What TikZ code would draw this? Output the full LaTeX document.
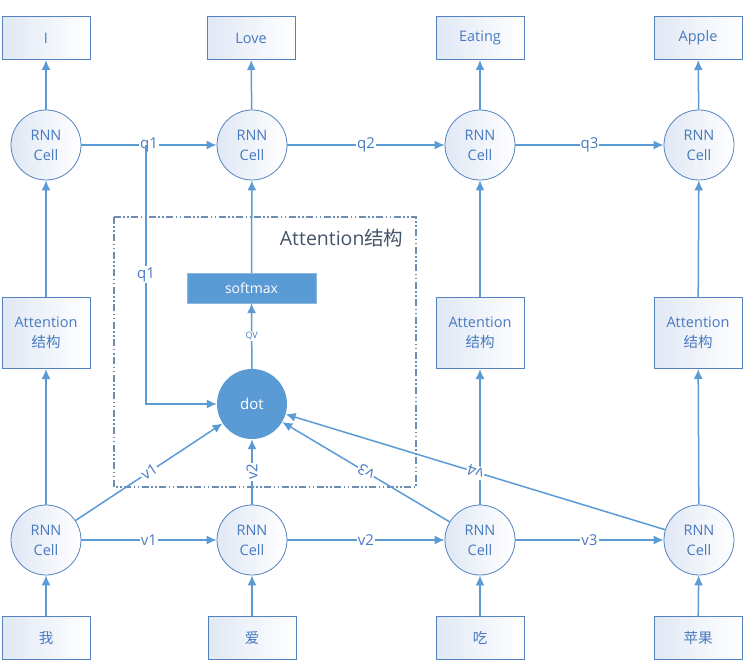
\documentclass[tikz,border=0pt]{standalone}
\usepackage{fontspec}
\setmainfont{Open Sans}
\newfontfamily\cjk{Noto Sans CJK SC}
\usetikzlibrary{arrows.meta}
\definecolor{lineblue}{RGB}{91,155,213}
\definecolor{edgeblue}{RGB}{84,130,190}
\definecolor{textblue}{RGB}{72,122,192}
\definecolor{paleblue}{RGB}{224,232,245}
\definecolor{slate}{RGB}{68,84,106}
\definecolor{framegray}{RGB}{110,140,175}
\tikzset{
  cell/.style={circle, draw=edgeblue, line width=0.8pt, left color=paleblue, right color=white, minimum size=70pt, inner sep=0pt, align=center, text=textblue, font=\fontsize{14.5}{20}\selectfont},
  word/.style={rectangle, draw=edgeblue, line width=1pt, left color=paleblue, right color=white, minimum width=88pt, minimum height=43pt, text=textblue, font=\fontsize{14.5}{17}\selectfont},
  attn/.style={word, minimum height=71pt, align=center, font=\fontsize{14.5}{20}\selectfont},
  link/.style={draw=lineblue, line width=1.5pt, -{Latex[length=10pt,width=9pt]}},
  lab/.style={fill=white, inner sep=1pt, text=textblue, font=\fontsize{15}{15}\selectfont},
  framebox/.style={draw=framegray, line width=1.2pt, dash pattern=on 7pt off 2.5pt on 1.5pt off 2.5pt on 1.5pt off 2.5pt},
}
\begin{document}
\begin{tikzpicture}[x=1pt, y=-1pt]
\useasboundingbox (0,0) rectangle (745,663);

% attention frame
\draw [framebox] (114,217) rectangle (416,487);
\node (title) [anchor=east, text=slate, font=\fontsize{19.5}{19.5}\selectfont] at (407,238) {Attention{\cjk 结构}};

% output words
\node (wt1) [word] at (46,38) {I};
\node (wt2) [word] at (251,38) {Love};
\node (wt3) [word] at (480,38) {Eating};
\node (wt4) [word] at (698,38) {Apple};

% decoder cells
\node (ct1) [cell] at (46,145) {RNN\\Cell};
\node (ct2) [cell] at (252,145) {RNN\\Cell};
\node (ct3) [cell] at (480,145) {RNN\\Cell};
\node (ct4) [cell] at (699,145) {RNN\\Cell};

% attention blocks
\node (a1) [attn] at (46,333) {Attention\\{\cjk 结构}};
\node (a3) [attn] at (480,333) {Attention\\{\cjk 结构}};
\node (a4) [attn] at (698,333) {Attention\\{\cjk 结构}};

% inside the frame
\node (sm) [rectangle, fill=lineblue, draw=lineblue!70!white, minimum width=129pt, minimum height=30pt, text=white, font=\fontsize{14}{14}\selectfont] at (251.5,288) {softmax};
\node (dot) [circle, fill=lineblue, minimum size=70pt, inner sep=0pt, text=white, font=\fontsize{15}{15}\selectfont] at (252,404) {dot};

% encoder cells
\node (cb1) [cell] at (46,540) {RNN\\Cell};
\node (cb2) [cell] at (252,540) {RNN\\Cell};
\node (cb3) [cell] at (480,540) {RNN\\Cell};
\node (cb4) [cell] at (699,540) {RNN\\Cell};

% input words
\node (wb1) [word] at (46,638) {\cjk 我};
\node (wb2) [word] at (252,638) {\cjk 爱};
\node (wb3) [word] at (480,638) {\cjk 吃};
\node (wb4) [word] at (698,638) {\cjk 苹果};

% cells to outputs
\draw [link] (ct1) -- (wt1);
\draw [link] (ct2) -- (wt2);
\draw [link] (ct3) -- (wt3);
\draw [link] (ct4) -- (wt4);

% decoder chain
\draw [link] (ct1) -- node[lab]{q1} (ct2);
\draw [link] (ct2) -- node[lab]{q2} (ct3);
\draw [link] (ct3) -- node[lab]{q3} (ct4);

% attention to decoder
\draw [link] (a1) -- (ct1);
\draw [link] (sm) -- (ct2);
\draw [link] (a3) -- (ct3);
\draw [link] (a4) -- (ct4);

% q1 into dot, dot to softmax
\coordinate (qsplit) at (146,145);
\draw [link] (qsplit) |- node[lab, pos=0.25]{q1} (dot);
\draw [link] (dot) -- node[lab, font=\fontsize{9}{9}\selectfont]{QV} (sm);

% encoder to attention
\draw [link] (cb1) -- (a1);
\draw [link] (cb3) -- (a3);
\draw [link] (cb4) -- (a4);
\draw [link] (cb1) -- node[lab, sloped, allow upside down]{v1} (dot);
\draw [link] (cb2) -- node[lab, sloped, allow upside down]{v2} (dot);
\draw [link] (cb3) -- node[lab, sloped, allow upside down]{v3} (dot);
\draw [link] (cb4) -- node[lab, sloped, allow upside down]{v4} (dot);

% encoder chain
\draw [link] (cb1) -- node[lab]{v1} (cb2);
\draw [link] (cb2) -- node[lab]{v2} (cb3);
\draw [link] (cb3) -- node[lab]{v3} (cb4);

% inputs to cells
\draw [link] (wb1) -- (cb1);
\draw [link] (wb2) -- (cb2);
\draw [link] (wb3) -- (cb3);
\draw [link] (wb4) -- (cb4);

\end{tikzpicture}
\end{document}
